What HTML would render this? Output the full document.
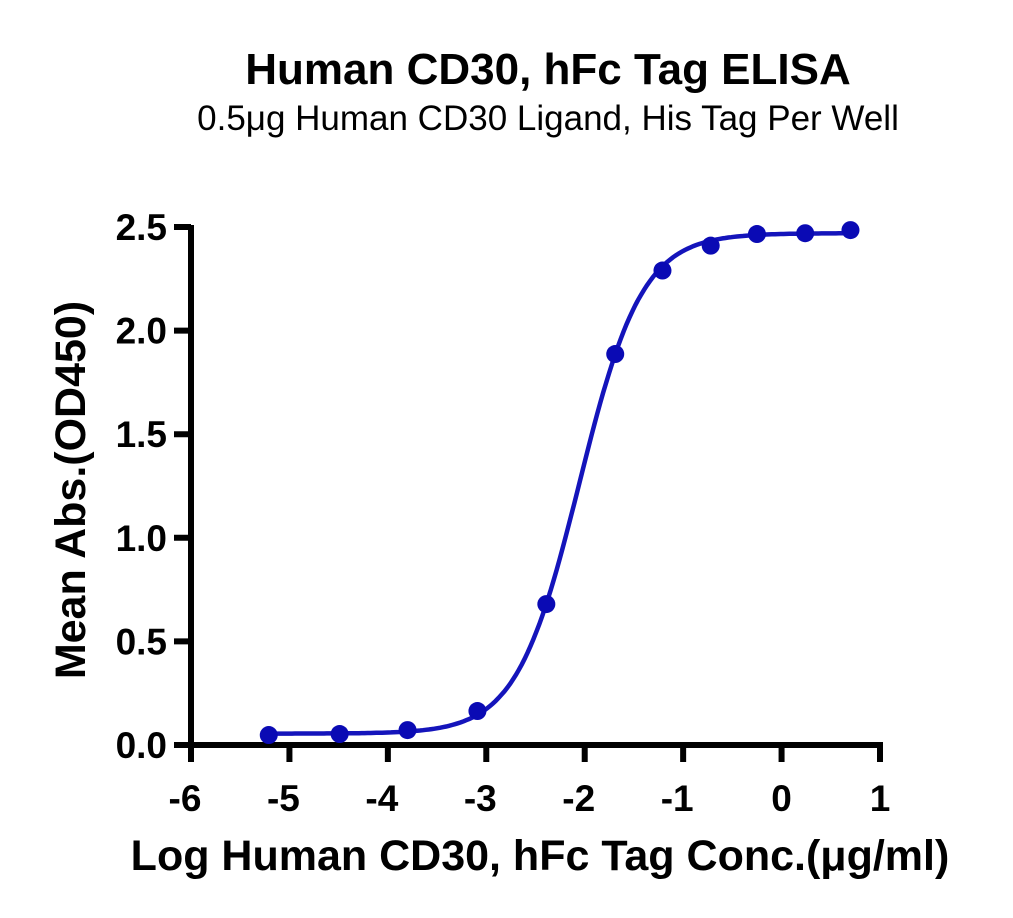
<!DOCTYPE html>
<html><head><meta charset="utf-8"><style>
body{margin:0;background:#fff;}
svg text{font-family:"Liberation Sans",Arial,sans-serif;}
</style></head><body>
<svg width="1013" height="913" viewBox="0 0 1013 913" xmlns="http://www.w3.org/2000/svg">
<text x="548" y="84" text-anchor="middle" font-size="44" font-weight="bold">Human CD30, hFc Tag ELISA</text>
<text x="548" y="130" text-anchor="middle" font-size="35">0.5μg Human CD30 Ligand, His Tag Per Well</text>
<g id="axes"></g>
<g id="marks"></g>
<text transform="translate(85,490) rotate(-90)" text-anchor="middle" font-size="43" font-weight="bold">Mean Abs.(OD450)</text>
<text x="540" y="870" text-anchor="middle" font-size="43" font-weight="bold">Log Human CD30, hFc Tag Conc.(μg/ml)</text>
</svg>
<script>
const xVals=[-5.21,-4.49,-3.80,-3.09,-2.39,-1.69,-1.21,-0.72,-0.25,0.24,0.70];
const yVals=[0.048,0.053,0.072,0.164,0.68,1.887,2.29,2.41,2.466,2.47,2.485];
const xTicks=[-6,-5,-4,-3,-2,-1,0,1];
const yTicks=[0,0.5,1,1.5,2,2.5];
const yTickLabels=["0.0","0.5","1.0","1.5","2.0","2.5"];
const fitBottom=0.055, fitTop=2.47, fitLogEC50=-2.055, fitHill=1.36;
const NS="http://www.w3.org/2000/svg";
const X0=191,X1=880,Y0=745,Y1=227;
const sx=v=>X0+(v-(-6))/7*(X1-X0);
const sy=v=>Y0-(v/2.5)*(Y0-Y1);
const axes=document.getElementById('axes'), marks=document.getElementById('marks');
function mk(tag,attrs,parent){const e=document.createElementNS(NS,tag);for(const k in attrs)e.setAttribute(k,attrs[k]);parent.appendChild(e);return e;}
let a=mk('line',{x1:X0,y1:Y1-2,x2:X0,y2:Y0+3,stroke:'#000','stroke-width':6},axes);


a=mk('line',{x1:X0-3,y1:Y0,x2:X1+3,y2:Y0,stroke:'#000','stroke-width':6},axes);


xTicks.forEach(t=>{
 const l=mk('line',{x1:sx(t),y1:Y0,x2:sx(t),y2:Y0+17,stroke:'#000','stroke-width':6},axes);
 
 
 const tx=mk('text',{x:sx(t)-(t<0?6:0),y:811,'text-anchor':'middle','font-size':37,'font-weight':'bold'},axes);
 tx.textContent=t;
 
 
});
yTicks.forEach((t,i)=>{
 const l=mk('line',{x1:X0-17,y1:sy(t),x2:X0,y2:sy(t),stroke:'#000','stroke-width':6},axes);
 
 
 const tx=mk('text',{x:167,y:sy(t)+13,'text-anchor':'end','font-size':37,'font-weight':'bold'},axes);
 tx.textContent=yTickLabels[i];
 
 
});
let d='';
for(let i=0;i<=200;i++){const x=xVals[0]+(xVals[xVals.length-1]-xVals[0])*i/200;
 const y=fitBottom+(fitTop-fitBottom)/(1+Math.pow(10,fitHill*(fitLogEC50-x)));
 d+=(i?'L':'M')+sx(x).toFixed(1)+','+sy(y).toFixed(1);}
const c=mk('path',{d:d,fill:'none',stroke:'#1414bb','stroke-width':4.5},marks);


xVals.forEach((x,i)=>{
 const p=mk('circle',{cx:sx(x),cy:sy(yVals[i]),r:9,fill:'#0a0ab4'},marks);
 
 
});
</script>
</body></html>
